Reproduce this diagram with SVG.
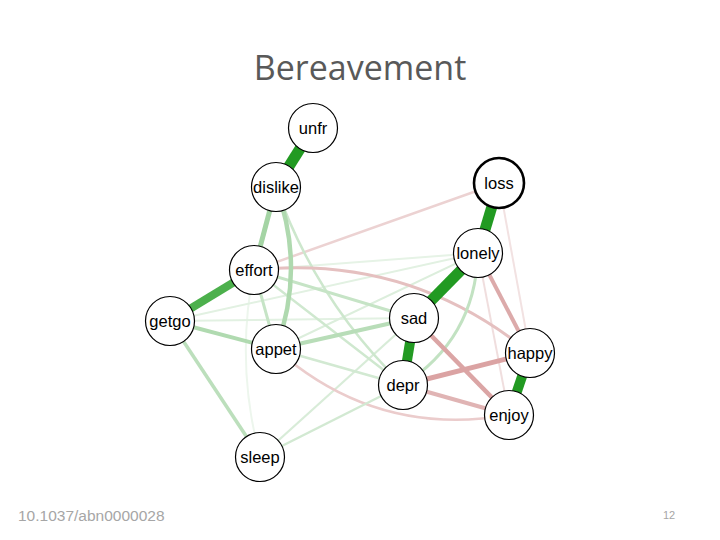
<svg xmlns="http://www.w3.org/2000/svg" width="720" height="540" viewBox="0 0 720 540">
<style>
.e{fill:none;stroke-linecap:butt}
.n circle{fill:#ffffff;stroke:#000000;stroke-width:1.2}
.n text{font-family:"Liberation Sans",Arial,sans-serif;font-size:16.5px;fill:#000000;text-anchor:middle;dominant-baseline:central}
.title{font-family:"Open Sans","Liberation Sans",sans-serif;font-size:34px;fill:#595959;text-anchor:middle}
.foot{font-family:"Liberation Sans",Arial,sans-serif;fill:#a6a6a6}
</style>
<rect width="720" height="540" fill="#ffffff"/>
<text class="title" x="360" y="80">Bereavement</text>
<g id="edges">
<!-- faint -->
<path class="e" d="M254,270 Q235,363 260,457" stroke="#edf6ed" stroke-width="2"/>
<line class="e" x1="254" y1="270" x2="478" y2="253" stroke="#e6f3e6" stroke-width="2"/>
<line class="e" x1="170" y1="321" x2="478" y2="253" stroke="#e2f1e2" stroke-width="2"/>
<line class="e" x1="170" y1="321" x2="414" y2="318" stroke="#e2f1e2" stroke-width="2"/>
<line class="e" x1="499" y1="183" x2="530" y2="353" stroke="#f2e2e2" stroke-width="2"/>
<line class="e" x1="478" y1="253" x2="509" y2="415" stroke="#f0dede" stroke-width="2"/>
<line class="e" x1="276" y1="349" x2="478" y2="253" stroke="#dceedc" stroke-width="2"/>
<line class="e" x1="260" y1="457" x2="414" y2="318" stroke="#d8ecd8" stroke-width="2.2"/>
<line class="e" x1="499" y1="183" x2="254" y2="270" stroke="#ecd2d2" stroke-width="2.5"/>
<path class="e" d="M276,349 Q376,438 509,415" stroke="#ebcccc" stroke-width="2.5"/>
<line class="e" x1="276" y1="349" x2="403" y2="385" stroke="#d2e9d2" stroke-width="2.5"/>
<line class="e" x1="260" y1="457" x2="403" y2="385" stroke="#d2e9d2" stroke-width="2.5"/>
<line class="e" x1="254" y1="270" x2="403" y2="385" stroke="#cfe8cf" stroke-width="2.5"/>
<path class="e" d="M276,187 Q316,301 403,385" stroke="#cde7cd" stroke-width="2.5"/>
<path class="e" d="M254,270 Q409,254 530,353" stroke="#e5c0c0" stroke-width="3"/>
<line class="e" x1="254" y1="270" x2="276" y2="349" stroke="#c6e4c6" stroke-width="3"/>
<line class="e" x1="254" y1="270" x2="414" y2="318" stroke="#c6e4c6" stroke-width="3"/>
<path class="e" d="M478,253 Q475,339 403,385" stroke="#c2e2c2" stroke-width="3"/>
<line class="e" x1="170" y1="321" x2="260" y2="457" stroke="#bcdfbc" stroke-width="3.5"/>
<line class="e" x1="276" y1="349" x2="414" y2="318" stroke="#b8ddb8" stroke-width="4"/>
<line class="e" x1="170" y1="321" x2="276" y2="349" stroke="#b0dab0" stroke-width="4"/>
<path class="e" d="M276,187 Q306,268 276,349" stroke="#afd9af" stroke-width="4.5"/>
<line class="e" x1="276" y1="187" x2="254" y2="270" stroke="#a4d4a4" stroke-width="5"/>
<line class="e" x1="403" y1="385" x2="509" y2="415" stroke="#e0b4b4" stroke-width="4"/>
<line class="e" x1="478" y1="253" x2="530" y2="353" stroke="#dcaaaa" stroke-width="4"/>
<line class="e" x1="414" y1="318" x2="509" y2="415" stroke="#dba5a5" stroke-width="4.5"/>
<line class="e" x1="403" y1="385" x2="530" y2="353" stroke="#dba3a3" stroke-width="5"/>
<!-- strong -->
<line class="e" x1="170" y1="321" x2="254" y2="270" stroke="#4cb04c" stroke-width="8"/>
<line class="e" x1="313" y1="128" x2="276" y2="187" stroke="#229a22" stroke-width="11"/>
<line class="e" x1="499" y1="183" x2="478" y2="253" stroke="#229a22" stroke-width="11"/>
<line class="e" x1="478" y1="253" x2="414" y2="318" stroke="#229a22" stroke-width="11"/>
<line class="e" x1="414" y1="318" x2="403" y2="385" stroke="#229a22" stroke-width="10"/>
<line class="e" x1="530" y1="353" x2="509" y2="415" stroke="#229a22" stroke-width="10"/>
</g>
<g id="unfr" class="n"><circle cx="313" cy="128" r="24.5"/><text x="313" y="128">unfr</text></g>
<g id="dislike" class="n"><circle cx="276" cy="187" r="24.5"/><text x="276" y="187">dislike</text></g>
<g id="loss" class="n"><circle cx="499" cy="183" r="25" style="stroke-width:2.6"/><text x="499" y="183">loss</text></g>
<g id="lonely" class="n"><circle cx="478" cy="253" r="24.5"/><text x="478" y="253">lonely</text></g>
<g id="effort" class="n"><circle cx="254" cy="270" r="24.5"/><text x="254" y="270">effort</text></g>
<g id="getgo" class="n"><circle cx="170" cy="321" r="24.5"/><text x="170" y="321">getgo</text></g>
<g id="sad" class="n"><circle cx="414" cy="318" r="24.5"/><text x="414" y="318">sad</text></g>
<g id="appet" class="n"><circle cx="276" cy="349" r="24.5"/><text x="276" y="349">appet</text></g>
<g id="happy" class="n"><circle cx="530" cy="353" r="24.5"/><text x="530" y="353">happy</text></g>
<g id="depr" class="n"><circle cx="403" cy="385" r="24.5"/><text x="403" y="385">depr</text></g>
<g id="enjoy" class="n"><circle cx="509" cy="415" r="24.5"/><text x="509" y="415">enjoy</text></g>
<g id="sleep" class="n"><circle cx="260" cy="457" r="24.5"/><text x="260" y="457">sleep</text></g>
<text class="foot" x="18" y="521" font-size="15.5">10.1037/abn0000028</text>
<text class="foot" x="663" y="519" font-size="11">12</text>
</svg>
